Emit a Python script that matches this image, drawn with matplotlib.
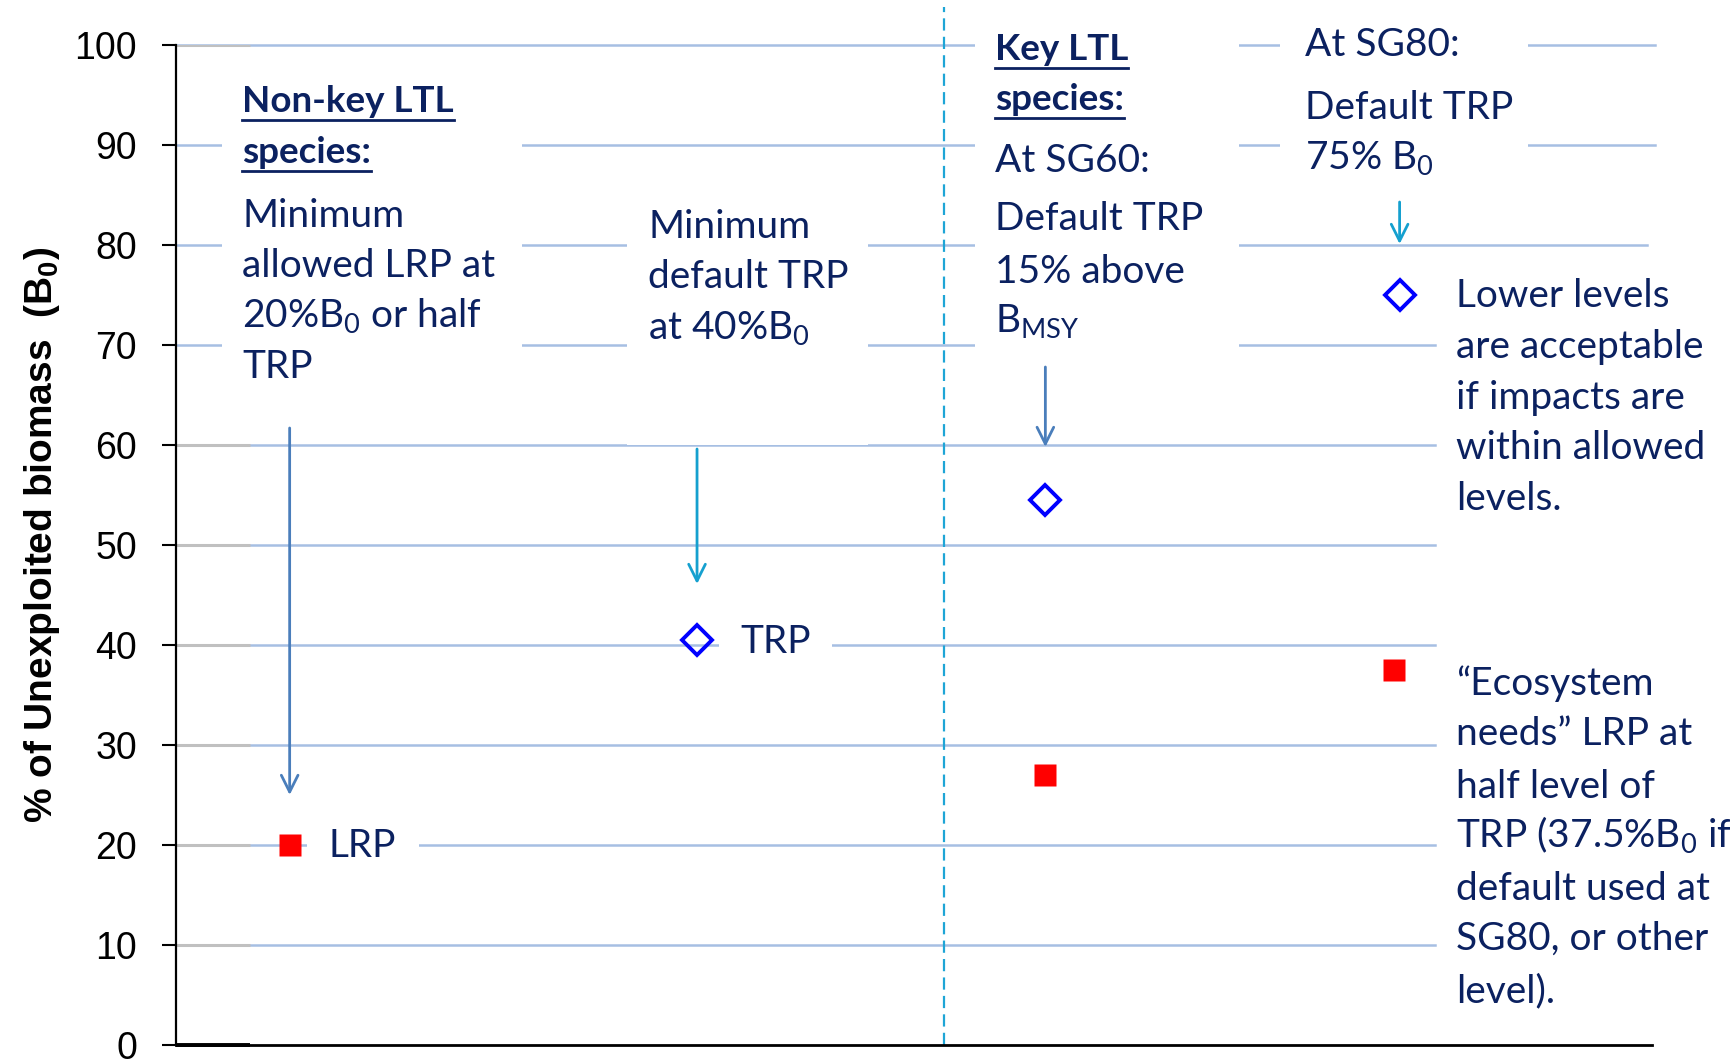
import matplotlib
matplotlib.use("Agg")
import matplotlib.pyplot as plt
from matplotlib.patches import Rectangle
from matplotlib.lines import Line2D

plt.rcParams["font.family"] = "Liberation Sans"
plt.rcParams["mathtext.fontset"] = "custom"
plt.rcParams["mathtext.rm"] = "Lato"
plt.rcParams["mathtext.bf"] = "Liberation Sans:bold"

# ---- data -------------------------------------------------------------
# x is a free "column" position (0-10), y is % of B0
TRP_X = [3.53, 5.89, 8.29]      # Non-key TRP, Key SG60 TRP, Key SG80 TRP
TRP_Y = [40.5, 54.5, 75.0]
LRP_X = [0.77, 5.89, 8.25]      # Non-key LRP, Key SG60 LRP, Key SG80 LRP
LRP_Y = [20.0, 27.0, 37.5]
Y_TICKS = [0, 10, 20, 30, 40, 50, 60, 70, 80, 90, 100]
GROUP_SPLIT = 5.2               # Non-key | Key boundary

# connector arrows: (x, y_from, y_to, colour)
ARROW_X = [LRP_X[0], TRP_X[0], TRP_X[1], TRP_X[2]]
ARROW_FROM = [61.7, 59.6, 67.8, 84.3]
ARROW_TO = [25.0, 46.1, 59.8, 80.1]

NAVY = "#0b2160"
GRID_BLUE = "#a6bfe3"
STEEL = "#4a7ebb"
CYAN = "#15a0cf"
ARROW_COL = [STEEL, CYAN, STEEL, CYAN]
FONT = "Lato"
FS = 28
FS_HEAD = 26.5

W, H = 1730, 1063
fig = plt.figure(figsize=(W / 100, H / 100), dpi=100)
ax = fig.add_axes([176 / W, 18 / H, 1476 / W, 1000 / H])
ax.set_xlim(0, 10)
ax.set_ylim(0, 100)
ax.set_xticks([])
ax.set_yticks(Y_TICKS)
ax.tick_params(axis="y", length=10, width=1.5, pad=18, labelsize=27, colors="black")
for s in ("top", "right"):
    ax.spines[s].set_visible(False)
ax.spines["left"].set_linewidth(1.6)
ax.spines["bottom"].set_linewidth(2.0)

# light-blue guide lines (PowerPoint-style shapes), partly hidden by text boxes
grid_y = Y_TICKS[1:]
grid_end = [0.853] * 7 + [0.9966, 1.002, 1.002]
for y, xe in zip(grid_y, grid_end):
    ax.axhline(y, xmin=0, xmax=xe, color=GRID_BLUE, lw=1.8, zorder=1, clip_on=False)
ax.hlines([10, 20, 30, 40, 50, 60, 100], 0, 0.5, color="#c0c0c0", lw=2.2, zorder=1.5)
ax.hlines(0, 0, 0.5, color="black", lw=2.8, zorder=3, clip_on=False)

ax.axvline(GROUP_SPLIT, ymin=0, ymax=1.038, color="#1ea5d6", lw=1.6,
           ls=(0, (5.5, 2.8)), clip_on=False, zorder=1.2)

ax.plot(LRP_X, LRP_Y, "s", color="#ff0000", ms=16, mec="none", ls="none", zorder=4)
ax.plot(TRP_X, TRP_Y, "D", mfc="none", mec="#0000ff", mew=2.8, ms=15, ls="none", zorder=4)

for x, y0, y1, c in zip(ARROW_X, ARROW_FROM, ARROW_TO, ARROW_COL):
    ax.annotate("", xy=(x, y1), xytext=(x, y0),
                arrowprops=dict(arrowstyle="->,head_length=0.6,head_width=0.3",
                                color=c, lw=2.0, mutation_scale=20,
                                shrinkA=0, shrinkB=0), zorder=3)


# ---- annotation boxes (figure pixel layout) ----------------------------
def white_box(x0, y0, x1, y1):
    fig.add_artist(Rectangle((x0 / W, 1 - y1 / H), (x1 - x0) / W, (y1 - y0) / H,
                             transform=fig.transFigure, facecolor="white",
                             edgecolor="none", zorder=2))


def put(x, y, s, **kw):
    kw.setdefault("fontsize", FS)
    return fig.text(x / W, 1 - y / H, s, ha="left", va="baseline", color=NAVY,
                    family=FONT, zorder=5, **kw)


white_box(222, 60, 522, 420)
white_box(627, 190, 868, 445)
white_box(975, 12, 1239, 360)
white_box(1280, 12, 1528, 200)
white_box(719, 625, 832, 665)
white_box(307, 830, 419, 870)

headings = []
headings.append((put(242, 112, "Non-key LTL", fontweight="bold", fontsize=FS_HEAD), 112))
headings.append((put(242, 163, "species:", fontweight="bold", fontsize=FS_HEAD), 163))
for yb, s in zip([227, 277, 328, 378],
                 ["Minimum", "allowed LRP at", r"20%B$_0$ or half", "TRP"]):
    put(242, yb, s)

for yb, s in zip([238, 288, 340], ["Minimum", "default TRP", r"at 40%B$_0$"]):
    put(648, yb, s)

headings.append((put(995, 60, "Key LTL", fontweight="bold", fontsize=FS_HEAD), 60))
headings.append((put(995, 110, "species:", fontweight="bold", fontsize=FS_HEAD), 110))
for yb, s in zip([172, 230, 283, 333],
                 ["At SG60:", "Default TRP", "15% above", r"B$_\mathrm{MSY}$"]):
    put(995, yb, s)

for yb, s in zip([56, 119, 170], ["At SG80:", "Default TRP", r"75% B$_0$"]):
    put(1305, yb, s)

for yb, s in zip([307, 358, 409, 459, 510],
                 ["Lower levels", "are acceptable", "if impacts are",
                  "within allowed", "levels."]):
    put(1456, yb, s)

for yb, s in zip([695, 745, 798, 848, 900, 950, 1002],
                 ["\u201cEcosystem", "needs\u201d LRP at", "half level of",
                  r"TRP (37.5%B$_0$ if", "default used at", "SG80, or other",
                  "level)."]):
    put(1456, yb, s)

put(740, 653, "TRP")
put(328, 857, "LRP")

fig.text(42 / W, 1 - 535 / H, r"% of Unexploited biomass  (B$_\mathbf{0}$)",
         rotation=90, ha="center", va="center", fontsize=28, fontweight="bold")

# underline the bold headings
fig.canvas.draw()
r = fig.canvas.get_renderer()
for t, yb in headings:
    bb = t.get_window_extent(r)
    yl = 1 - (yb + 8) / H
    fig.add_artist(Line2D([bb.x0 / W, bb.x1 / W], [yl, yl], transform=fig.transFigure,
                          color=NAVY, lw=2.0, zorder=5))

fig.savefig("out.png", dpi=100)
